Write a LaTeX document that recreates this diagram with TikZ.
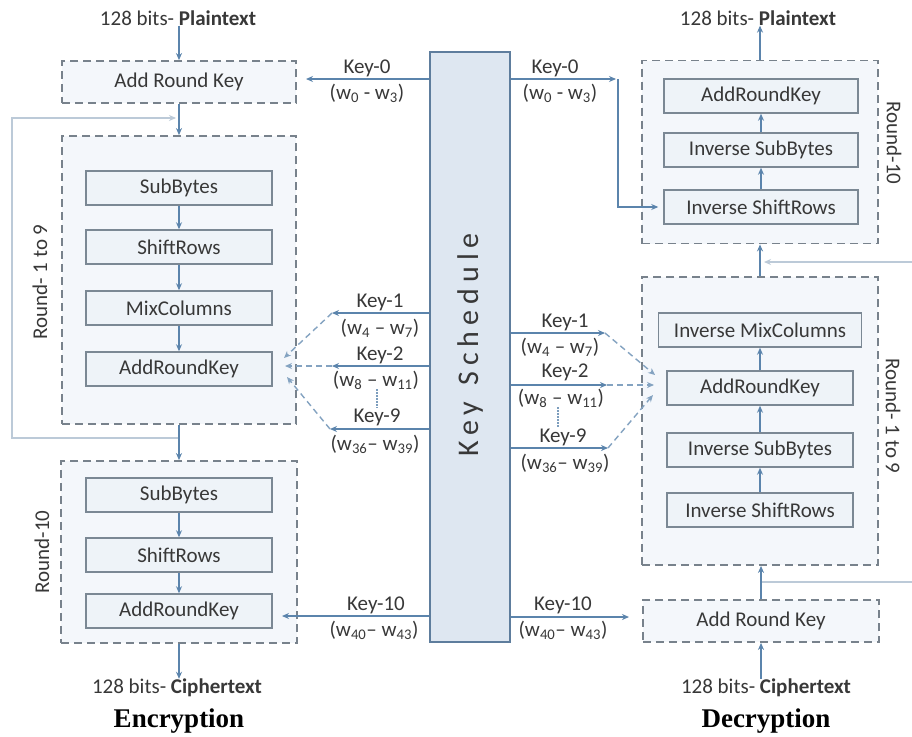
\documentclass[tikz,border=0pt]{standalone}
\usepackage{fontspec}
\setmainfont{Carlito}
\newfontfamily\titlefont{Liberation Serif}
\usetikzlibrary{arrows.meta,calc}

\definecolor{flowcol}{HTML}{5B84AC}
\definecolor{loopcol}{HTML}{BCCAD8}
\definecolor{dashcol}{HTML}{78828C}
\definecolor{edgecol}{HTML}{7B8894}
\definecolor{regionfill}{HTML}{F4F7FB}
\definecolor{stepfill}{HTML}{EEF3F8}
\definecolor{ksfill}{HTML}{DEE7F1}
\definecolor{ksedge}{HTML}{5E7D9D}
\definecolor{txt}{HTML}{383838}

\begin{document}
\begin{tikzpicture}[x=1pt,y=-1pt,
  every node/.style={text=txt, font=\fontsize{21}{25}\selectfont},
  stepbox/.style={draw=edgecol, fill=stepfill, line width=1.5pt,
    minimum width=186pt, minimum height=34pt, inner sep=0pt},
  region/.style={draw=dashcol, fill=regionfill, line width=1.8pt,
    dash pattern=on 8pt off 5pt, inner sep=0pt},
  flow/.style={draw=flowcol, line width=1.6pt, -{Stealth[length=7pt,width=6pt]}},
  keyline/.style={draw=flowcol, line width=1.4pt, -{Stealth[length=7pt,width=6pt]}},
  keydash/.style={draw=flowcol!75, line width=1.4pt, dash pattern=on 6pt off 4pt,
    -{Stealth[length=7pt,width=6pt]}},
  loopline/.style={draw=loopcol, line width=1.5pt},
  dotsline/.style={draw=flowcol!80, line width=1.2pt, dash pattern=on 1.5pt off 1.5pt},
  lbl/.style={inner sep=0pt},
  title/.style={text=black, font=\titlefont\bfseries\fontsize{27}{30}\selectfont},
]
\fill[white] (0,0) rectangle (912,736);
\useasboundingbox (0,0) rectangle (912,736);

% ---------------- Encryption column ----------------
\node[lbl] (ptL) at (178,18) {128 bits- \textbf{Plaintext}};
\node[region, minimum width=234pt, minimum height=42pt] (arkL) at (179,82) {Add Round Key};
\node[region, minimum width=234pt, minimum height=288pt] (r19L) at (179,280) {};
\node[stepbox] (sb1) at (179,188) {SubBytes};
\node[stepbox] (sr1) at (179,247) {ShiftRows};
\node[stepbox] (mc1) at (179,308) {MixColumns};
\node[stepbox] (ad1) at (179,369) {AddRoundKey};
\node[region, minimum width=236pt, minimum height=182pt] (r10L) at (179,552) {};
\node[stepbox] (sb2) at (179,495) {SubBytes};
\node[stepbox] (sr2) at (179,555) {ShiftRows};
\node[stepbox] (ad2) at (179,611) {AddRoundKey};
\node[lbl] (ctL) at (177,688) {128 bits- \textbf{Ciphertext}};
\node[title] (enc) at (179,721) {Encryption};

\node[rotate=90] (rl1) at (40,282) {Round- 1 to 9};
\node[rotate=90] (rl2) at (42,552) {Round-10};

% loop back from the end of a round to its start
\coordinate (lpA) at (179,438);
\coordinate (lpB) at (179,118);
\draw[loopline, -{Stealth[length=7pt,width=6pt]}, shorten >=3pt]
  (lpA) -- (12,438) -- (12,118) -- (lpB);

\draw[flow] (ptL.south -| arkL.north) -- (arkL.north);
\draw[flow] (arkL.south) -- (r19L.north);
\draw[flow] (sb1) -- (sr1);
\draw[flow] (sr1) -- (mc1);
\draw[flow] (mc1) -- (ad1);
\draw[flow] (r19L.south) -- (r10L.north);
\draw[flow] (sb2) -- (sr2);
\draw[flow] (sr2) -- (ad2);
\draw[flow] (r10L.south) -- (r10L.south |- ctL.north);

% ---------------- Key schedule ----------------
\node[draw=ksedge, fill=ksfill, line width=1.5pt, minimum width=80pt,
  minimum height=590pt, inner sep=0pt] (ks) at (470,347) {};
\node[rotate=90, font=\fontsize{30}{34}\selectfont\addfontfeatures{LetterSpace=20}]
  (kslbl) at (470,345) {Key\hspace{16pt}Schedule};

% ---------------- Decryption column ----------------
\node[lbl] (ptR) at (758,18) {128 bits- \textbf{Plaintext}};
\node[region, minimum width=236pt, minimum height=183pt] (r10R) at (760,152) {};
\node[stepbox, minimum width=194pt] (ark3) at (761,96) {AddRoundKey};
\node[stepbox, minimum width=194pt] (isb3) at (761,150) {Inverse SubBytes};
\node[stepbox, minimum width=194pt] (isr3) at (761,207) {Inverse ShiftRows};
\node[region, minimum width=236pt, minimum height=288pt] (r19R) at (760,421) {};
\node[stepbox, minimum width=203pt] (imc) at (760,330) {Inverse MixColumns};
\node[stepbox] (ark4) at (760,388) {AddRoundKey};
\node[stepbox] (isb4) at (760,450) {Inverse SubBytes};
\node[stepbox] (isr4) at (760,510) {Inverse ShiftRows};
\node[region, minimum width=236pt, minimum height=42pt] (arkR) at (761,621) {Add Round Key};
\node[lbl] (ctR) at (766,688) {128 bits- \textbf{Ciphertext}};
\node[title] (dec) at (766,721) {Decryption};

\node[rotate=-90] (rr1) at (894,143) {Round-10};
\node[rotate=-90] (rr2) at (893,416) {Round- 1 to 9};

\coordinate (rpA) at (761,582);
\coordinate (rpB) at (761,262);
\draw[loopline, -{Stealth[length=7pt,width=6pt]}, shorten >=3pt]
  (rpA) -- (930,582) -- (930,262) -- (rpB);

\draw[flow] (r10R.north) -- (r10R.north |- ptR.south);
\draw[flow] (isr3) -- (isb3);
\draw[flow] (isb3) -- (ark3);
\draw[flow] (r19R.north) -- (r10R.south);
\draw[flow] (isr4) -- (isb4);
\draw[flow] (isb4) -- (ark4);
\draw[flow] (ark4) -- (imc);
\draw[flow] (arkR.north) -- (arkR.north |- r19R.south);
\draw[flow] (arkR.south |- ctR.north) -- (arkR.south);

% ---------------- Round keys, encryption side ----------------
\coordinate (k0L) at (306,79);
\coordinate (k1L) at (332,313);
\coordinate (k2L) at (332,366);
\coordinate (k9L) at (330,429);
\coordinate (k10L) at (282,616);
\coordinate (e1L) at (284,358);
\coordinate (e2L) at (285,366);
\coordinate (e9L) at (287,377);

\draw[keyline] (ks.west |- k0L) -- (k0L);
\draw[keyline] (ks.west |- k1L) -- (k1L);
\draw[keyline] (ks.west |- k2L) -- (k2L);
\draw[keyline] (ks.west |- k9L) -- (k9L);
\draw[keyline] (ks.west |- k10L) -- (k10L);
\draw[keydash] (k1L) -- (e1L);
\draw[keydash] (k2L) -- (e2L);
\draw[keydash] (k9L) -- (e9L);

\node[lbl] (t0La) at (367,68) {Key-0};
\node[lbl] (t0Lb) at (367,93) {(w\textsubscript{0} - w\textsubscript{3})};
\node[lbl] (t1La) at (380,302) {Key-1};
\node[lbl] (t1Lb) at (380,328) {(w\textsubscript{4} -- w\textsubscript{7})};
\node[lbl] (t2La) at (380,355) {Key-2};
\node[lbl] (t2Lb) at (376,380) {(w\textsubscript{8} -- w\textsubscript{11})};
\node[lbl] (t9La) at (377,417) {Key-9};
\node[lbl] (t9Lb) at (375,444) {(w\textsubscript{36}-- w\textsubscript{39})};
\node[lbl] (t10La) at (376,605) {Key-10};
\node[lbl] (t10Lb) at (374,630) {(w\textsubscript{40}-- w\textsubscript{43})};
\draw[dotsline] (t2Lb.south -| 377,0) -- (t9La.north -| 377,0);

% ---------------- Round keys, decryption side ----------------
\coordinate (k0R) at (616,79);
\coordinate (k0Rt) at (618,79);
\coordinate (k1R) at (605,333);
\coordinate (k2R) at (607,385);
\coordinate (k9R) at (608,448);
\coordinate (k10R) at (629,617);
\coordinate (e1R) at (655,375);
\coordinate (e2R) at (654,385);
\coordinate (e9R) at (653,395);

\draw[keyline] (ks.east |- k0R) -- (k0R);
\draw[keyline, shorten >=5pt] (k0Rt) |- (isr3.west);
\draw[keyline] (ks.east |- k1R) -- (k1R);
\draw[keyline] (ks.east |- k2R) -- (k2R);
\draw[keyline] (ks.east |- k9R) -- (k9R);
\draw[keyline] (ks.east |- k10R) -- (k10R);
\draw[keydash] (k1R) -- (e1R);
\draw[keydash] (k2R) -- (e2R);
\draw[keydash] (k9R) -- (e9R);

\node[lbl] (t0Ra) at (555,68) {Key-0};
\node[lbl] (t0Rb) at (560,93) {(w\textsubscript{0} - w\textsubscript{3})};
\node[lbl] (t1Ra) at (565,322) {Key-1};
\node[lbl] (t1Rb) at (560,347) {(w\textsubscript{4} -- w\textsubscript{7})};
\node[lbl] (t2Ra) at (565,372) {Key-2};
\node[lbl] (t2Rb) at (561,398) {(w\textsubscript{8} -- w\textsubscript{11})};
\node[lbl] (t9Ra) at (563,437) {Key-9};
\node[lbl] (t9Rb) at (565,463) {(w\textsubscript{36}-- w\textsubscript{39})};
\node[lbl] (t10Ra) at (563,605) {Key-10};
\node[lbl] (t10Rb) at (563,630) {(w\textsubscript{40}-- w\textsubscript{43})};
\draw[dotsline] (t2Rb.south -| 558,0) -- (t9Ra.north -| 558,0);
\end{tikzpicture}
\end{document}
